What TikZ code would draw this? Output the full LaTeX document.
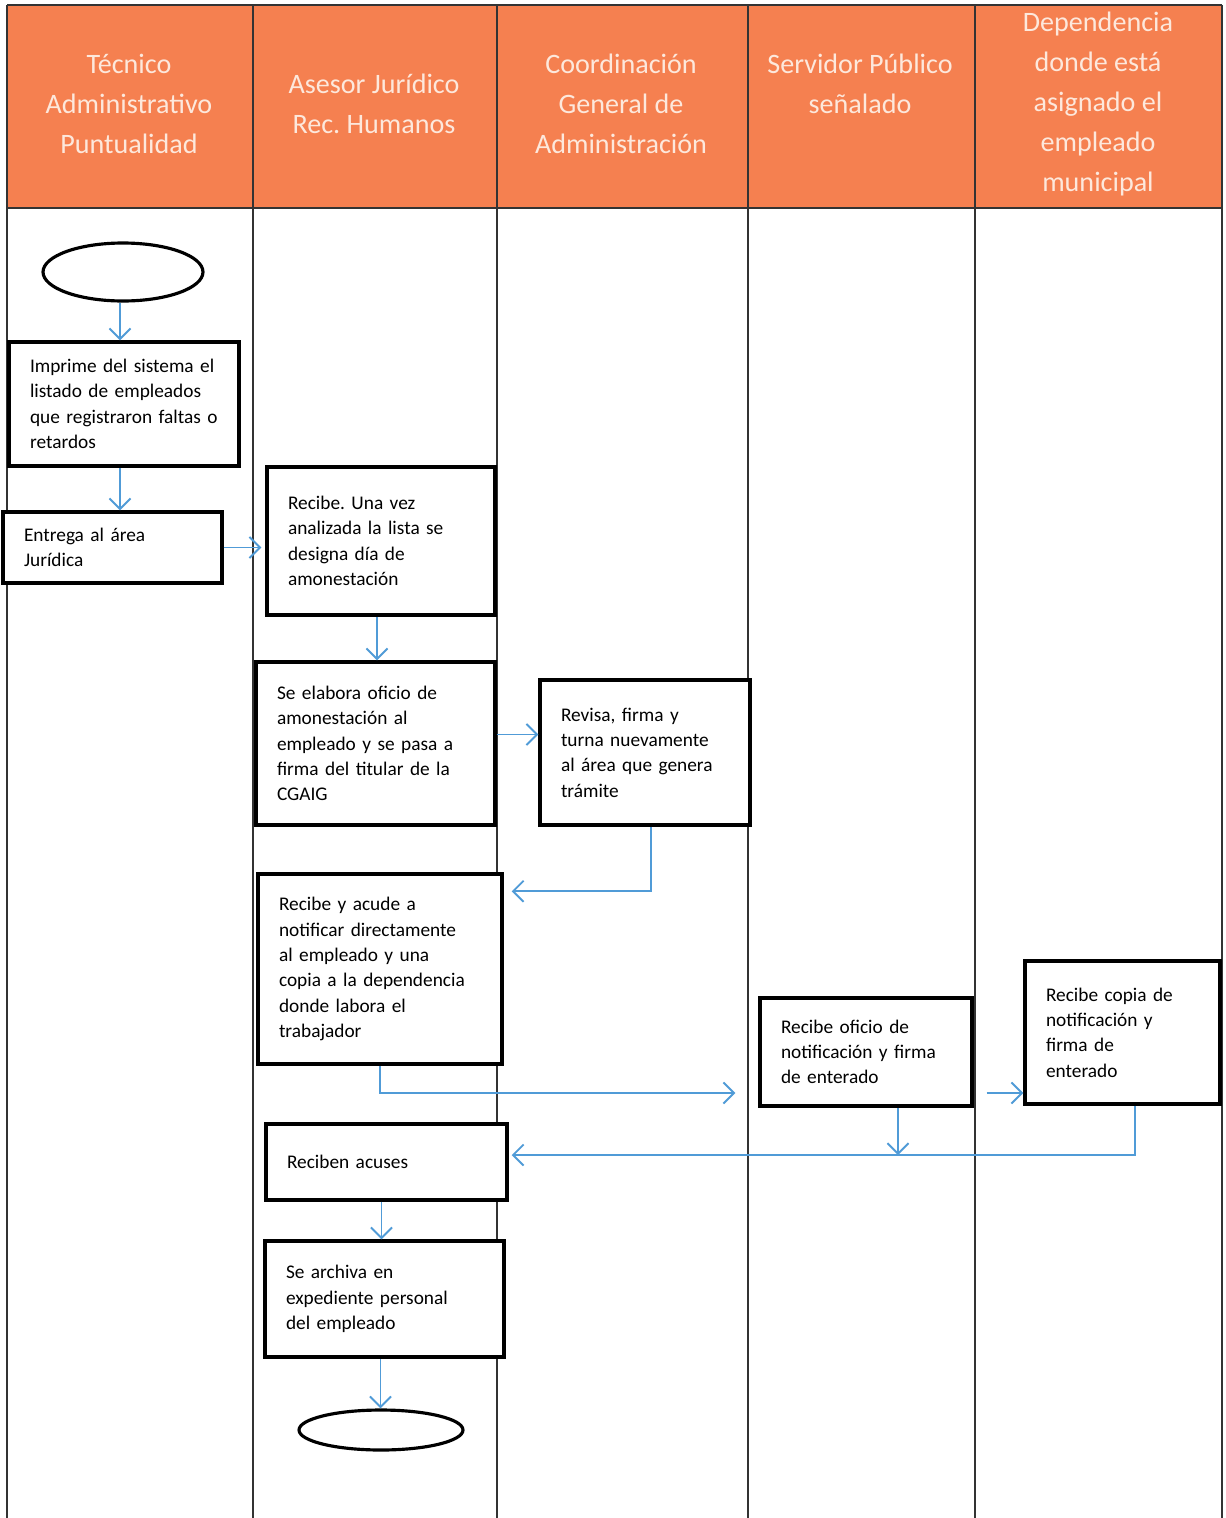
\documentclass[tikz,border=0pt]{standalone}
\usepackage{fontspec}
\setmainfont{Carlito}
\frenchspacing
\usetikzlibrary{arrows.meta,shapes.geometric}

\definecolor{laneorange}{RGB}{245,128,80}
\definecolor{headtext}{RGB}{253,232,220}
\definecolor{flowblue}{RGB}{80,155,215}

\tikzset{
	lane/.style={line width=0.6pt, draw=black!80},
	head/.style={align=center, text=headtext, font=\fontsize{16}{22.7}\selectfont},
	stepbox/.style={draw, line width=2pt, fill=white, align=left, inner xsep=0.42cm, font=\fontsize{11}{14.4}\selectfont},
	terminal/.style={draw, ellipse, line width=1.8pt, fill=white},
	flow/.style={draw=flowblue, line width=1.1pt, -{Straight Barb[length=6pt,width=12pt]}}
}

\begin{document}
\begin{tikzpicture}[x=0.02cm,y=-0.02cm]

	\useasboundingbox (0,0) rectangle (1226,1518);
	\fill[white] (0,0) rectangle (1226,1518);

	% lanes
	\fill[laneorange] (7,5) rectangle (1222,208);
	\draw[lane] (7,5) -- (1222,5);
	\draw[lane] (7,208) -- (1222,208);
	\foreach \x in {7,253,497,748,975,1222}
		\draw[lane] (\x,5) -- (\x,1518);

	\node[head] (h1) at (129,104) {Técnico\\Administrativo\\Puntualidad};
	\node[head] (h2) at (374,104) {Asesor Jurídico\\Rec. Humanos};
	\node[head] (h3) at (621,104) {Coordinación\\General de\\Administración};
	\node[head] (h4) at (860,84) {Servidor Público\\señalado};
	\node[head] (h5) at (1098,104) {Dependencia\\donde está\\asignado el\\empleado\\municipal};

	% steps
	\node[terminal, minimum width=3.2cm, minimum height=1.16cm] (start) at (123,272) {};
	\node[stepbox, text width=3.76cm, minimum height=2.48cm] (b1) at (124,404)
		{Imprime del sistema el\\listado de empleados\\que registraron faltas o\\retardos};
	\node[stepbox, text width=3.54cm, minimum height=1.42cm] (b2) at (112.5,547.5)
		{Entrega al área\\Jurídica};
	\node[stepbox, text width=3.72cm, minimum height=2.96cm] (b3) at (381,541)
		{Recibe. Una vez\\analizada la lista se\\designa día de\\amonestación};
	\node[stepbox, text width=3.94cm, minimum height=3.26cm] (b4) at (375.5,743.5)
		{Se elabora oficio de\\amonestación al\\empleado y se pasa a\\firma del titular de la\\CGAIG};
	\node[stepbox, text width=3.36cm, minimum height=2.9cm] (b5) at (645,752.5)
		{Revisa, firma y\\turna nuevamente\\al área que genera\\trámite};
	\node[stepbox, text width=4.04cm, minimum height=3.8cm] (b6) at (380,969)
		{Recibe y acude a\\notificar directamente\\al empleado y una\\copia a la dependencia\\donde labora el\\trabajador};
	\node[stepbox, text width=3.4cm, minimum height=2.16cm] (b7) at (866,1052)
		{Recibe oficio de\\notificación y firma\\de enterado};
	\node[stepbox, text width=3.06cm, minimum height=2.86cm] (b8) at (1122.5,1032.5)
		{Recibe copia de\\notificación y\\firma de\\enterado};
	\node[stepbox, text width=3.98cm, minimum height=1.52cm] (b9) at (386.5,1162)
		{Reciben acuses};
	\node[stepbox, text width=3.94cm, minimum height=2.32cm] (b10) at (384.5,1299)
		{Se archiva en\\expediente personal\\del empleado};
	\node[terminal, minimum width=3.28cm, minimum height=0.8cm] (end) at (381,1430) {};

	% connectors
	\coordinate (j6) at ([shift={(8,19)}]b6.north east);
	\coordinate (j7) at ([shift={(-23,41)}]b7.west);
	\coordinate (m7) at ([shift={(13,41)}]b7.east);
	\coordinate (d7) at ([xshift=0.64cm]b7.south);
	\coordinate (j9) at ([shift={(3,-7)}]b9.east);
	\coordinate (d8) at ([xshift=0.25cm]b8.south);

	\draw[flow] ([xshift=-0.06cm]start.south) -- ([xshift=-0.06cm]start.south |- b1.north);
	\draw[flow] ([xshift=-0.08cm]b1.south) -- ([xshift=-0.08cm]b1.south |- b2.north);
	\draw[flow] (b2.east) -- ([xshift=-0.08cm]b2.east -| b3.west);
	\draw[flow] ([xshift=-0.08cm]b3.south) -- ([xshift=-0.08cm]b3.south |- b4.north);
	\draw[flow] ([yshift=0.18cm]b4.east) -- ([yshift=0.18cm]b4.east -| b5.west);
	\draw[flow] ([xshift=0.12cm]b5.south) |- (j6);
	\draw[flow] (b6.south) |- (j7);
	\draw[flow] (m7) -- (m7 -| b8.west);
	\draw[flow] (d8) |- (j9);
	\draw[flow] (d7) -- (d7 |- j9);
	\draw[flow] ([xshift=-0.1cm]b9.south) -- ([xshift=-0.1cm]b9.south |- b10.north);
	\draw[flow] ([xshift=-0.08cm]b10.south) -- ([xshift=-0.08cm]b10.south |- end.north);

\end{tikzpicture}
\end{document}
